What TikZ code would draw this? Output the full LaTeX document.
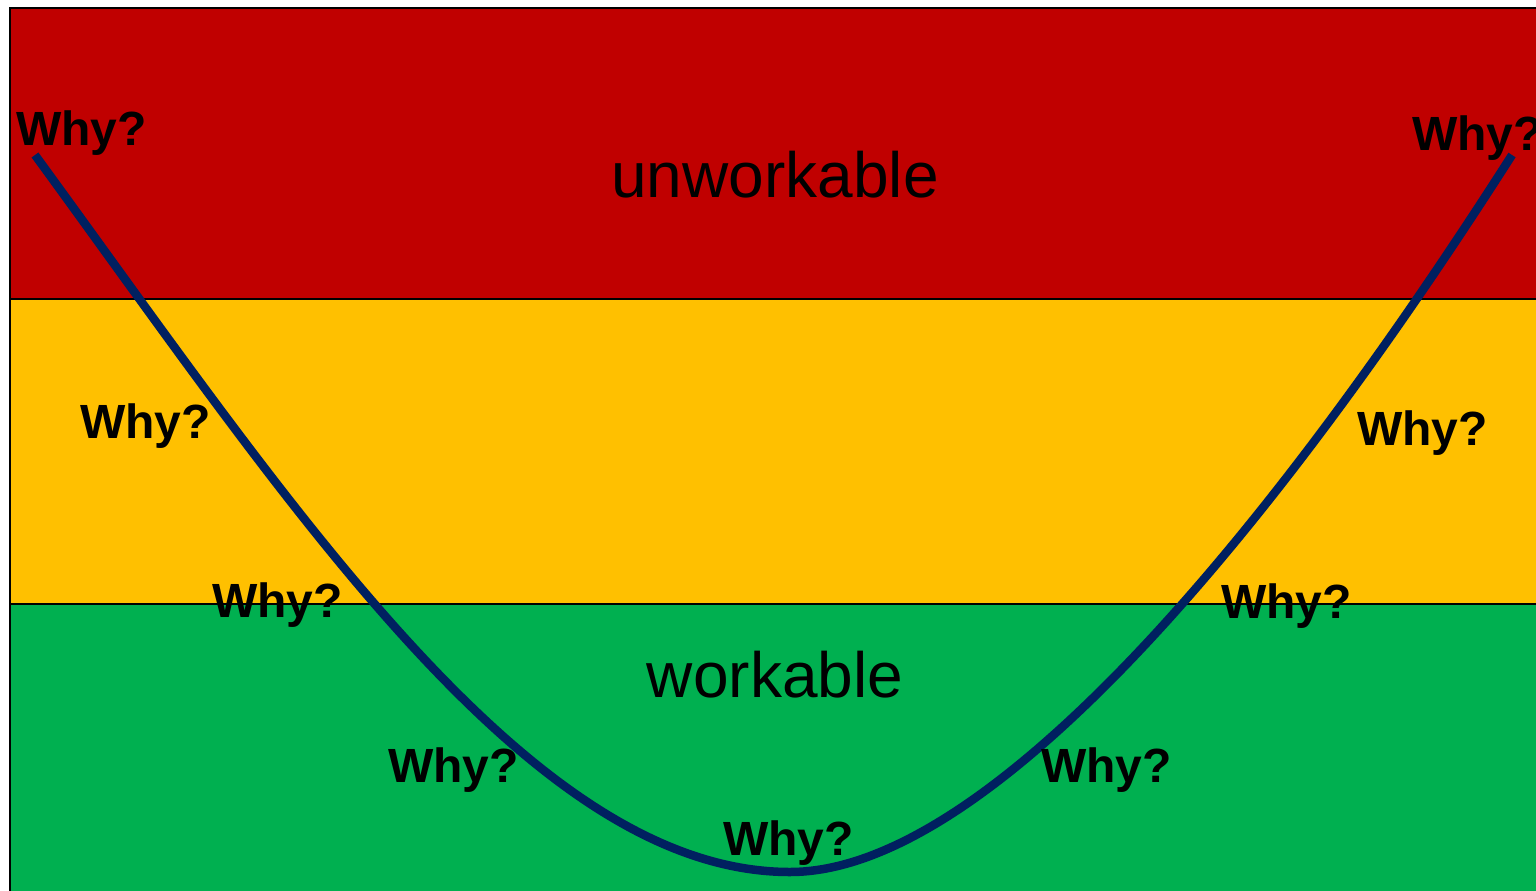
\documentclass[tikz,border=0pt]{standalone}
\usepackage{fontspec}
\setmainfont{Liberation Sans}
\definecolor{bandred}{HTML}{C00000}
\definecolor{bandyellow}{HTML}{FFC000}
\definecolor{bandgreen}{HTML}{00B050}
\definecolor{curvenavy}{HTML}{002060}
\begin{document}
\begin{tikzpicture}[x=1pt,y=-1pt,
  band/.style={draw=black,line width=1.5pt},
  why/.style={anchor=base west,inner sep=0pt,font=\fontsize{48}{50}\selectfont\bfseries},
  zone/.style={anchor=base,inner sep=0pt,font=\fontsize{64}{70}\selectfont},
  curve/.style={draw=curvenavy,line width=8.5pt}]
\useasboundingbox (0,0) rectangle (1536,891);
\clip (0,0) rectangle (1536,891);
\path[band,fill=bandred] (10,8) rectangle (1545,299);
\path[band,fill=bandyellow] (10,299) rectangle (1545,604);
\path[band,fill=bandgreen] (10,604) rectangle (1545,900);
\node[zone] (unw) at (775,197) {unworkable};
\node[zone] (wor) at (775,697) {workable};
\coordinate (cstart) at (35,155);
\coordinate (cbottom) at (790,872);
\coordinate (cend) at (1512,155);
\path[curve] (cstart) .. controls (290,504) and (530,872) .. (cbottom)
  .. controls (980,872) and (1252,562) .. (cend);
\node[why] (w1) at (16,145) {Why?};
\node[why] (w2) at (1412,150) {Why?};
\node[why] (w3) at (80,438) {Why?};
\node[why] (w4) at (1357,445) {Why?};
\node[why] (w5) at (212,617) {Why?};
\node[why] (w6) at (1221,618) {Why?};
\node[why] (w7) at (388,782) {Why?};
\node[why] (w8) at (1041,782) {Why?};
\node[why] (w9) at (723,855) {Why?};
\end{tikzpicture}
\end{document}
